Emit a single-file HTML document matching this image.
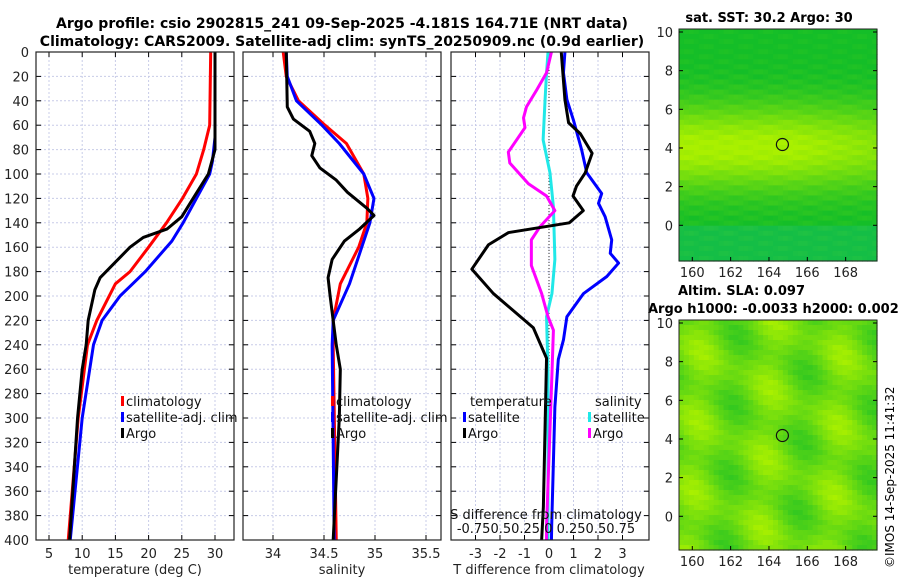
<!DOCTYPE html>
<html><head><meta charset="utf-8"><style>
body{margin:0;background:#fff}
svg{display:block;font-family:"DejaVu Sans","Liberation Sans",sans-serif}
</style></head><body>
<svg id="c" width="900" height="580" viewBox="0 0 900 580">
<text x="342" y="28" text-anchor="middle" font-size="14" font-weight="bold">Argo profile: csio 2902815_241 09-Sep-2025 -4.181S 164.71E (NRT data)</text>
<text x="342" y="46" text-anchor="middle" font-size="14" font-weight="bold">Climatology: CARS2009. Satellite-adj clim: synTS_20250909.nc (0.9d earlier)</text>
<text x="769" y="22" text-anchor="middle" font-size="13" font-weight="bold">sat. SST: 30.2 Argo: 30</text>
<text x="678" y="295" font-size="13" font-weight="bold">Altim. SLA: 0.097</text>
<text x="648" y="313" font-size="13" font-weight="bold">Argo h1000: -0.0033 h2000: 0.002</text>
<text transform="translate(894,568) rotate(-90)" font-size="12">©IMOS 14-Sep-2025 11:41:32</text>
<g id="g"></g>
</svg>
<script>
const depT=[0,60,80,100,120,140,160,180,190,220,240,300,400];
const tClim=[29.35,29.2,28.3,27.2,25.1,22.7,20,17.2,15,12.2,10.8,9.4,7.9];
const depTs=[0,70,90,100,120,140,155,180,200,220,240,300,400];
const tSat=[30,30,29.6,29.2,27.2,25.2,23.5,19.5,15.7,13,11.7,10,8.2];
const depTa=[0,80,100,120,135,145,152,160,185,195,220,240,260,300,350,400];
const tArgo=[30,30,29,26.7,25,22.8,19.2,17.2,12.7,11.9,10.9,10.6,10,9.3,8.7,8.1];
const depS=[0,20,40,60,75,100,120,140,160,190,220,240,400];
const sClim=[34.10,34.13,34.25,34.51,34.72,34.89,34.93,34.92,34.84,34.66,34.59,34.59,34.62];
const sSat=[34.13,34.14,34.23,34.48,34.65,34.89,34.99,34.95,34.87,34.75,34.59,34.58,34.60];
const depSa=[0,45,55,65,75,85,95,105,115,128,134,145,155,170,185,200,220,240,260,300,400];
const sArgo=[34.13,34.14,34.20,34.36,34.41,34.38,34.46,34.62,34.73,34.92,34.99,34.85,34.70,34.58,34.54,34.56,34.59,34.62,34.66,34.65,34.59];
const depDa=[0,39,58,67,83,99,110,118,130,140,148,158,178,198,226,251,373,400];
const dTArgo=[0.5,0.65,0.8,1.28,1.76,1.48,1.12,0.98,1.4,0.83,-1.65,-2.47,-3.15,-2.27,-0.64,-0.1,-0.23,-0.3];
const depDs=[0,17,39,56,80,99,116,124,135,154,165,173,184,198,217,236,252,291,388,400];
const dTSat=[0.65,0.59,0.73,1.0,1.33,1.54,2.15,2.02,2.29,2.56,2.5,2.84,2.36,1.41,0.73,0.59,0.38,0.24,0.11,0.1];
const depMS=[0,17,31,45,54,62,82,91,108,118,130,143,154,175,198,217,228,264,388,400];
const dSArgo=[0.025,-0.025,-0.125,-0.23,-0.26,-0.245,-0.415,-0.4,-0.21,-0.025,0.06,-0.09,-0.18,-0.18,-0.075,-0.01,0.045,0.03,-0.025,-0.025];
const depCS=[0,17,39,72,99,127,170,198,217,264,400];
const dSSat=[-0.01,-0.025,-0.04,-0.06,0.01,0.045,0.06,0.03,-0.025,-0.01,-0.01];
const depthTicks=[0,20,40,60,80,100,120,140,160,180,200,220,240,260,280,300,320,340,360,380,400];
const tTicks=[5,10,15,20,25,30];
const sTicks=[34,34.5,35,35.5];
const dTicks=[-3,-2,-1,0,1,2,3];
const latTicks=[0,2,4,6,8,10];
const lonTicks=[160,162,164,166,168];

const NS='http://www.w3.org/2000/svg';
const G=document.getElementById('g');
function mk(t,a,p){const e=document.createElementNS(NS,t);for(const k in a)e.setAttribute(k,a[k]);(p||G).appendChild(e);return e;}
const pTop=52,pBot=540;
const yD=d=>pTop+d*(pBot-pTop)/400;
const xT=v=>15.8+v*6.64;
const xS=v=>273+(v-34)*102;
const xD=v=>549+v*24.5;
const xDS=v=>549+v*98;
const panels=[[36,234],[243,441],[451,649]];
const pg=[];
function txt(x0,y0,s,opt,par){const t=mk('text',Object.assign({x:x0,y:y0,'font-size':13,fill:'#222'},opt||{}),par);t.textContent=s;return t;}

panels.forEach((pp,i)=>{
  const a=pp[0],b=pp[1];
  const clip=mk('clipPath',{id:'cp'+i});mk('rect',{x:a,y:pTop,width:b-a,height:pBot-pTop},clip);
  const gp=mk('g',{'clip-path':'url(#cp'+i+')'});
  
  
  depthTicks.forEach(d=>{mk('line',{x1:a,x2:b,y1:yD(d),y2:yD(d),stroke:'#c8cce8','stroke-width':1,'stroke-dasharray':'2,2'},gp);
    mk('line',{x1:a,x2:a+5,y1:yD(d),y2:yD(d),stroke:'#000'},gp);mk('line',{x1:b-5,x2:b,y1:yD(d),y2:yD(d),stroke:'#000'},gp);});
  const xt=i==0?tTicks.map(xT):i==1?sTicks.map(xS):dTicks.map(xD);
  xt.forEach(x=>{mk('line',{x1:x,x2:x,y1:pTop,y2:pBot,stroke:'#c8cce8','stroke-dasharray':'2,2'},gp);
    mk('line',{x1:x,x2:x,y1:pBot-5,y2:pBot,stroke:'#000'},gp);mk('line',{x1:x,x2:x,y1:pTop,y2:pTop+5,stroke:'#000'},gp);});
  if(i==2)mk('line',{x1:xD(0),x2:xD(0),y1:pTop,y2:pBot,stroke:'#333','stroke-dasharray':'1,2'},gp);
  pg.push(gp);
});
let t;
depthTicks.forEach(d=>{t=txt(29,yD(d)+5,String(d),{'text-anchor':'end'});});
tTicks.forEach(v=>{t=txt(xT(v),558,String(v),{'text-anchor':'middle'});});
sTicks.forEach(v=>{t=txt(xS(v),558,String(v),{'text-anchor':'middle'});});
dTicks.forEach(v=>{t=txt(xD(v),558,String(v),{'text-anchor':'middle'});});
t=txt(135,574,'temperature (deg C)',{'text-anchor':'middle'});
t=txt(342,574,'salinity',{'text-anchor':'middle'});
t=txt(549,574,'T difference from climatology',{'text-anchor':'middle'});

function pl(gp,xs,ds,fx,col,name){const p=mk('polyline',{points:xs.map((v,i)=>fx(v)+','+yD(ds[i])).join(' '),fill:'none',stroke:col,'stroke-width':3,'stroke-linejoin':'round'},gp);
  
  }
pl(pg[0],tClim,depT,xT,'#f00','temp-climatology-line');
pl(pg[0],tSat,depTs,xT,'#00f','temp-satellite-line');
pl(pg[0],tArgo,depTa,xT,'#000','temp-argo-line');
pl(pg[1],sClim,depS,xS,'#f00','sal-climatology-line');
pl(pg[1],sSat,depS,xS,'#00f','sal-satellite-line');
pl(pg[1],sArgo,depSa,xS,'#000','sal-argo-line');
pl(pg[2],dSSat,depCS,xDS,'#20e8e8','sdiff-satellite-line');
pl(pg[2],dSArgo,depMS,xDS,'#f0f','sdiff-argo-line');
pl(pg[2],dTSat,depDs,xD,'#00f','tdiff-satellite-line');
pl(pg[2],dTArgo,depDa,xD,'#000','tdiff-argo-line');
panels.forEach(pp=>{const r=mk('rect',{x:pp[0],y:pTop,width:pp[1]-pp[0],height:pBot-pTop,fill:'none',stroke:'#222','stroke-width':1.2});
  
  });

function leg(x,yy,col,label,name){mk('rect',{x:x,y:yy-10,width:3,height:10,fill:col});t=txt(x+5,yy,label,{fill:'#111'});
  
  }
leg(121,406,'#f00','climatology','legend-climatology');
leg(121,422,'#00f','satellite-adj. clim','legend-satellite-adj');
leg(121,438,'#000','Argo','legend-argo');
leg(331,406,'#f00','climatology','legend2-climatology');
leg(331,422,'#00f','satellite-adj. clim','legend2-satellite-adj');
leg(331,438,'#000','Argo','legend2-argo');
t=txt(470,406,'temperature',{fill:'#111'});
t=txt(595,406,'salinity',{fill:'#111'});
leg(463,422,'#00f','satellite','legend-tdiff-satellite');
leg(463,438,'#000','Argo','legend-tdiff-argo');
leg(588,422,'#20e8e8','satellite','legend-sdiff-satellite');
leg(588,438,'#f0f','Argo','legend-sdiff-argo');
t=txt(546,519,'S difference from climatology',{'text-anchor':'middle',fill:'#111'});
t=txt(546,533,'-0.750.50.25 0  0.250.50.75',{'text-anchor':'middle',fill:'#111'});

function map(y0,y1,kind,name){
  const x0=679,x1=877;
  const lx=v=>692.3+(v-160)*19.17;
  const ly=v=>(y0+3)+(10-v)*19.33;
  const gm=mk('g',{});
  
  
  const n=40,m=46,cw=(x1-x0)/n,ch=(y1-y0)/m;
  for(let i=0;i<n;i++)for(let j=0;j<m;j++){
    const lat=10-(j*ch)/19.33, lon=159.3+i*cw/19.17;
    let f;
    if(kind==0){f=Math.exp(-Math.pow((lat-4)/2.2,2))*(1-0.25*Math.max(0,(lon-165)/5));f+=0.06*Math.sin(i*7.1+j*3.3);}
    else{f=0.6+0.35*Math.sin(lon*1.3+lat*0.8)*Math.cos(lat*0.9-lon*0.4)+0.05*Math.sin(i*5.3+j*2.7);}
    f=Math.max(0,Math.min(1,f));
    const r=Math.round(20+f*150),gg=Math.round(190+f*50),b=Math.round(40-f*40+(kind==0&&lat<0?30:0));
    mk('rect',{x:x0+i*cw,y:y0+j*ch,width:cw+0.6,height:ch+0.6,fill:`rgb(${r},${gg},${b})`},gm);
  }
  mk('circle',{cx:lx(164.7),cy:ly(4.18),r:6,fill:'none',stroke:'#111','stroke-width':1.2},gm);
  mk('rect',{x:x0,y:y0,width:x1-x0,height:y1-y0,fill:'none',stroke:'#222'},gm);
  latTicks.forEach(v=>{mk('line',{x1:x0,x2:x0+4,y1:ly(v),y2:ly(v),stroke:'#000'},gm);mk('line',{x1:x1-4,x2:x1,y1:ly(v),y2:ly(v),stroke:'#000'},gm);
    const tt=txt(673,ly(v)+5,String(v),{'text-anchor':'end'},gm);
    
    });
  lonTicks.forEach(v=>{mk('line',{x1:lx(v),x2:lx(v),y1:y1-4,y2:y1,stroke:'#000'},gm);
    const tt=txt(lx(v),y1+16,String(v),{'text-anchor':'middle'},gm);
    
    });
}
map(29,261,0,'sst-map');
map(320,550,1,'sla-map');
</script>
</body></html>
